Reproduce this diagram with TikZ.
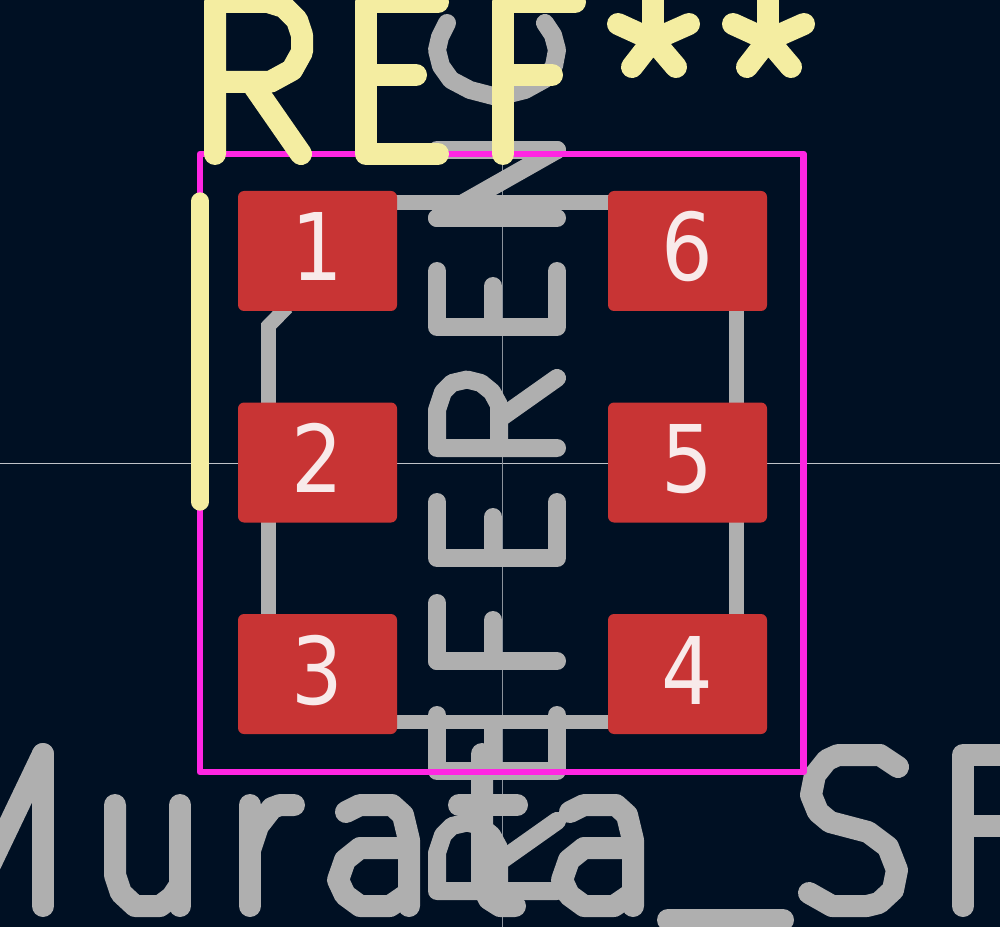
\documentclass[tikz,border=0pt]{standalone}
\usepackage{fontspec}
\setmainfont{DejaVu Sans}
\newfontfamily\padfont[FakeStretch=0.87]{DejaVu Sans}
\definecolor{boardbg}{HTML}{001023}
\definecolor{fabgray}{HTML}{AFAFAF}
\definecolor{crtyd}{HTML}{FF26E2}
\definecolor{silk}{HTML}{F4EDA1}
\definecolor{padred}{HTML}{C83434}
\definecolor{padtext}{HTML}{F8EAEA}
\tikzset{
  fab/.style={draw=fabgray, line width=10.9pt},
  reftext/.style={draw=fabgray, line width=13.5pt, line cap=round, line join=round},
  valtext/.style={draw=fabgray, line width=16.5pt, line cap=round, line join=round},
  silkline/.style={draw=silk, line width=16.5pt, line cap=round, line join=round},
  pad/.style={rectangle, fill=padred, rounded corners=4.5pt, inner sep=0pt,
    minimum width=119.25pt, minimum height=90pt, text=padtext,
    font=\padfont\fontsize{70}{84}\selectfont, text height=51pt, text depth=6pt}
}
\begin{document}
\begin{tikzpicture}[x=0.75pt, y=-0.75pt]
  \path[use as bounding box] (0,0) rectangle (1000,927);
  \clip (0,0) rectangle (1000,927);
  \fill[boardbg] (0,0) rectangle (1000,927);
  % crosshair
  \draw[draw=white!75!boardbg, line width=0.75pt] (0,463) -- (1000,463);
  \draw[draw=white!55!boardbg, line width=0.75pt] (502,0) -- (502,927);
  % fab outline
  \draw[fab] (300,202.5) -- (700,202.5);
  \draw[fab] (300,722) -- (700,722);
  \draw[fab] (268.5,410) -- (268.5,326) -- (287,307);
  \draw[fab] (268.5,515) -- (268.5,620);
  \draw[fab] (736.5,300) -- (736.5,620);
  % REFERENCE, rotated
  \foreach \y in {327,558,771} {
    \draw[reftext] (437,\y-56) -- (437,\y) -- (557,\y) -- (557,\y-56);
    \draw[reftext] (493,\y) -- (493,\y-41);
  }
  \foreach \y in {448,891} {
    \draw[reftext] (557,\y) -- (437,\y) -- (437,\y-38) -- (443,\y-56) -- (452,\y-65) -- (467,\y-68.5) -- (481,\y-65) -- (492,\y-56) -- (499,\y-43) -- (499,\y);
    \draw[reftext] (499,\y-29) -- (557,\y-70);
  }
  \draw[reftext] (437,661) -- (557,661);
  \draw[reftext] (437,603) -- (437,661);
  \draw[reftext] (493,620) -- (493,661);
  \draw[reftext] (437,218) -- (557,218);
  \draw[reftext] (437,218) -- (557,150);
  \draw[reftext] (437,150) -- (557,150);
  \draw[reftext] (447,23) -- (440,37) -- (437,50) -- (441,66) -- (451,80) -- (470,90) -- (497,97) -- (525,90) -- (545,79) -- (554,66) -- (557,50) -- (553,35) -- (545,23);
  % Murata_SF value
  \draw[valtext] (43,754) -- (43,906);
  \draw[valtext] (43,754) -- (-22,890);
  \draw[valtext] (115,805) -- (115,875) -- (121,893) -- (135,906) -- (160,906) -- (172,897) -- (180,885);
  \draw[valtext] (180,805) -- (180,906);
  \draw[valtext] (250,805) -- (250,906);
  \draw[valtext] (250,850) -- (258,826) -- (272,808) -- (280,805) -- (294,805);
  \foreach \dx in {0,224} {
    \draw[valtext] (346+\dx,812) -- (360+\dx,805) -- (392+\dx,805) -- (403+\dx,815) -- (409+\dx,840) -- (409+\dx,906);
    \draw[valtext] (409+\dx,848) -- (360+\dx,848) -- (345+\dx,860) -- (338+\dx,880) -- (345+\dx,895) -- (360+\dx,906) -- (390+\dx,906) -- (409+\dx,893);
  }
  \draw[valtext] (482,754) -- (482,885) -- (489,899) -- (500,906) -- (515,906);
  \draw[valtext] (459,805) -- (517,805);
  \draw[valtext] (668,920) -- (783,920);
  \draw[valtext] (898,767) -- (880,755) -- (838,755) -- (827,760) -- (815,775) -- (811,795) -- (818,812) -- (830,822) -- (868,832) -- (888,847) -- (897,870) -- (893,890) -- (879,903) -- (867,906) -- (832,906) -- (809,893);
  \draw[valtext] (963,906) -- (963,755) -- (1020,755);
  \draw[valtext] (963,826) -- (1020,826);
  % courtyard
  \draw[draw=crtyd, line width=5.2pt, line join=round] (200,154) rectangle (803.5,772);
  % REF** silkscreen
  \draw[silkline] (215,154) -- (215,2) -- (268,2) -- (284,7) -- (297,20) -- (302,35) -- (302,52) -- (292,70) -- (270,82) -- (215,82);
  \draw[silkline] (251,82) -- (301,154);
  \draw[silkline] (438,2) -- (366,2) -- (366,154) -- (438,154);
  \draw[silkline] (366,75) -- (416,75);
  \draw[silkline] (575,2) -- (503,2) -- (503,154);
  \draw[silkline] (503,75) -- (552,75);
  \foreach \dx in {0,115} {
    \draw[silkline] (653+\dx,-20) -- (653+\dx,40);
    \draw[silkline] (618+\dx,24) -- (653+\dx,40) -- (689+\dx,24);
    \draw[silkline] (632+\dx,67) -- (653+\dx,40) -- (676+\dx,67);
  }
  \draw[draw=silk, line width=13pt, line cap=round] (200,201) -- (200,502);
  % pads
  \node[pad] (pad1) at (317.5,251) {1};
  \node[pad] (pad2) at (317.5,462.5) {2};
  \node[pad] (pad3) at (317.5,674) {3};
  \node[pad] (pad4) at (687.5,674) {4};
  \node[pad] (pad5) at (687.5,462.5) {5};
  \node[pad] (pad6) at (687.5,251) {6};
\end{tikzpicture}
\end{document}
